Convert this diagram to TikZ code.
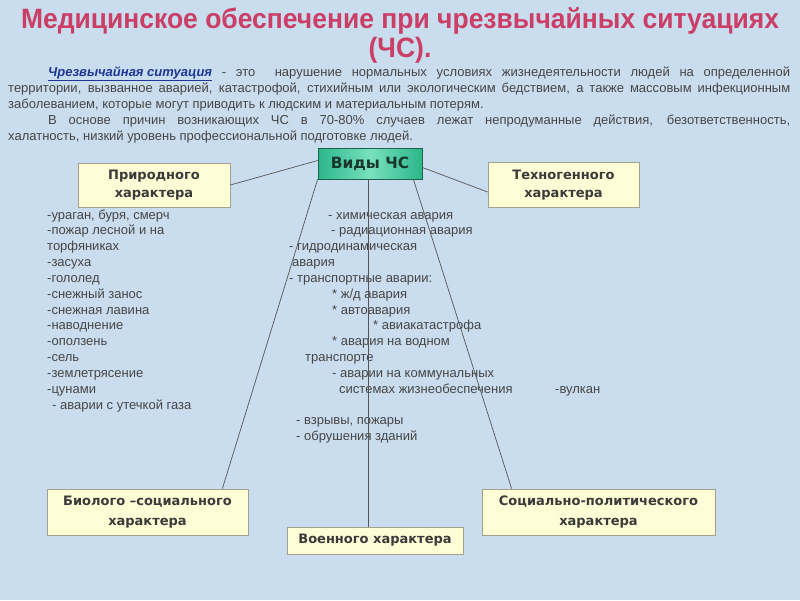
\documentclass[tikz,border=0pt]{standalone}
\usepackage{fontspec}
\setmainfont{Liberation Sans}
\newfontfamily\boxfnt{DejaVu Sans}
\usetikzlibrary{calc}
\definecolor{bg}{RGB}{201,221,239}
\definecolor{titlecol}{RGB}{203,62,102}
\definecolor{txt}{RGB}{70,70,70}
\definecolor{defcol}{RGB}{30,55,150}
\definecolor{boxfill}{RGB}{255,253,214}
\definecolor{boxline}{RGB}{165,160,140}
\definecolor{boxtxt}{RGB}{58,58,58}
\definecolor{linecol}{RGB}{85,85,85}
\definecolor{greenA}{RGB}{44,182,138}
\definecolor{greenB}{RGB}{120,225,190}
\definecolor{greenline}{RGB}{30,100,75}
\newsavebox\titlebox
\newlength\titlew
\tikzset{
  ybox/.style={draw=boxline, line width=0.8pt, fill=boxfill, inner sep=0pt,
    align=center, text=boxtxt,
    font=\boxfnt\bfseries\fontsize{13}{18}\selectfont},
  gbox/.style={draw=greenline, line width=0.8pt, left color=greenA, right color=greenA,
    middle color=greenB, inner sep=0pt, text={rgb,255:red,25;green,55;blue,45},
    font=\boxfnt\bfseries\fontsize{15.5}{18}\selectfont},
  lst/.style={anchor=base west, inner sep=0pt, text=txt, font=\fontsize{13}{15.8}\selectfont},
  para/.style={anchor=base west, inner sep=0pt, text=txt, font=\fontsize{13}{16}\selectfont},
  conn/.style={draw=linecol, line width=0.7pt},
  ttl/.style={anchor=base, inner sep=0pt, text=titlecol}
}
\begin{document}
\sbox\titlebox{\color{titlecol}\fontsize{28}{30}\selectfont\bfseries Медицинское обеспечение при чрезвычайных ситуациях}%
\setlength\titlew{\wd\titlebox}%
\pgfmathsetmacro\tsc{758pt/\titlew}%
\begin{tikzpicture}[x=1pt,y=-1pt]
\useasboundingbox (0,0) rectangle (800,600);
\fill[bg] (0,0) rectangle (800,600);

% title
\node[ttl] (t1) at (400,28) {\scalebox{\tsc}[1]{\usebox\titlebox}};
\node[ttl] (t2) at (400,57) {\scalebox{\tsc}[1]{\fontsize{28}{30}\selectfont\bfseries (ЧС).}};

% paragraph
\node[para] (p1) at (48,76.5) {\makebox[742pt][s]{{\color{defcol}\bfseries\itshape\underline{Чрезвычайная ситуация}} - это \ нарушение нормальных условиях жизнедеятельности людей на определенной}};
\node[para] (p2) at (8,92.5) {\makebox[782pt][s]{территории, вызванное аварией, катастрофой, стихийным или экологическим бедствием, а также массовым инфекционным}};
\node[para] (p3) at (8,108.5) {заболеванием, которые могут приводить к людским и материальным потерям.};
\node[para] (p4) at (48,124.5) {\makebox[742pt][s]{В основе причин возникающих ЧС в 70-80\% случаев лежат непродуманные действия, безответственность,}};
\node[para] (p5) at (8,140.5) {халатность, низкий уровень профессиональной подготовке людей.};

% boxes
\node[gbox, minimum width=104pt, minimum height=31pt] (vidy) at (370,163.5) {Виды ЧС};
\node[ybox, minimum width=152pt, minimum height=44pt] (prir) at (154,185) {Природного\\характера};
\node[ybox, minimum width=151pt, minimum height=45pt] (tech) at (563.5,185) {Техногенного\\характера};
\node[ybox, minimum width=201pt, minimum height=46pt, font=\boxfnt\bfseries\fontsize{13}{19.5}\selectfont] (bio) at (147.5,512) {Биолого –социального\\характера};
\node[ybox, minimum width=176pt, minimum height=27pt] (voen) at (375,540.5) {Военного характера};
\node[ybox, minimum width=233pt, minimum height=46pt, font=\boxfnt\bfseries\fontsize{13}{19.5}\selectfont] (soc) at (598.5,512) {Социально-политического\\характера};

% left list
\node[lst] (l1) at (47,219) {-ураган, буря, смерч};
\node[lst] (l2) at (47,234.8) {-пожар лесной и на};
\node[lst] (l3) at (47,250.7) {торфяниках};
\node[lst] (l4) at (47,266.5) {-засуха};
\node[lst] (l5) at (47,282.3) {-гололед};
\node[lst] (l6) at (47,298.2) {-снежный занос};
\node[lst] (l7) at (47,314) {-снежная лавина};
\node[lst] (l8) at (47,329.8) {-наводнение};
\node[lst] (l9) at (47,345.7) {-оползень};
\node[lst] (l10) at (47,361.5) {-сель};
\node[lst] (l11) at (47,377.3) {-землетрясение};
\node[lst] (l12) at (47,393.1) {-цунами};
\node[lst] (l13) at (52,409) {- аварии с утечкой газа};

% middle list
\node[lst] (m1) at (328,219) {- химическая авария};
\node[lst] (m2) at (331,234.8) {- радиационная авария};
\node[lst] (m3) at (289,250.7) {- гидродинамическая};
\node[lst] (m4) at (292,266.5) {авария};
\node[lst] (m5) at (289,282.3) {- транспортные аварии:};
\node[lst] (m6) at (332,298.2) {* ж/д авария};
\node[lst] (m7) at (332,314) {* автоавария};
\node[lst] (m8) at (373,329.8) {* авиакатастрофа};
\node[lst] (m9) at (332,345.7) {* авария на водном};
\node[lst] (m10) at (305,361.5) {транспорте};
\node[lst] (m11) at (332,377.3) {- аварии на коммунальных};
\node[lst] (m12) at (339,393.1) {системах жизнеобеспечения};
\node[lst] (m13) at (555,393.1) {-вулкан};
\node[lst] (m14) at (296,424.8) {- взрывы, пожары};
\node[lst] (m15) at (296,440.7) {- обрушения зданий};

% connectors
\coordinate (vb) at ($(vidy.south)+(-2,0)$);
\coordinate (vl) at ($(vidy.west)+(0,-3)$);
\coordinate (vr) at ($(vidy.east)+(0,4)$);
\coordinate (vsr) at ($(vidy.south east)+(-9,0)$);
\coordinate (te) at ($(tech.west)+(0,7)$);
\coordinate (be) at ($(bio.north east)+(-26,0)$);
\coordinate (se) at ($(soc.north west)+(30,0)$);
\draw[conn] (vl) -- (prir.east);
\draw[conn] (vr) -- (te);
\draw[conn] (vidy.south west) -- (be);
\draw[conn] (vb) -- (vb |- voen.north);
\draw[conn] (vsr) -- (se);
\end{tikzpicture}
\end{document}
